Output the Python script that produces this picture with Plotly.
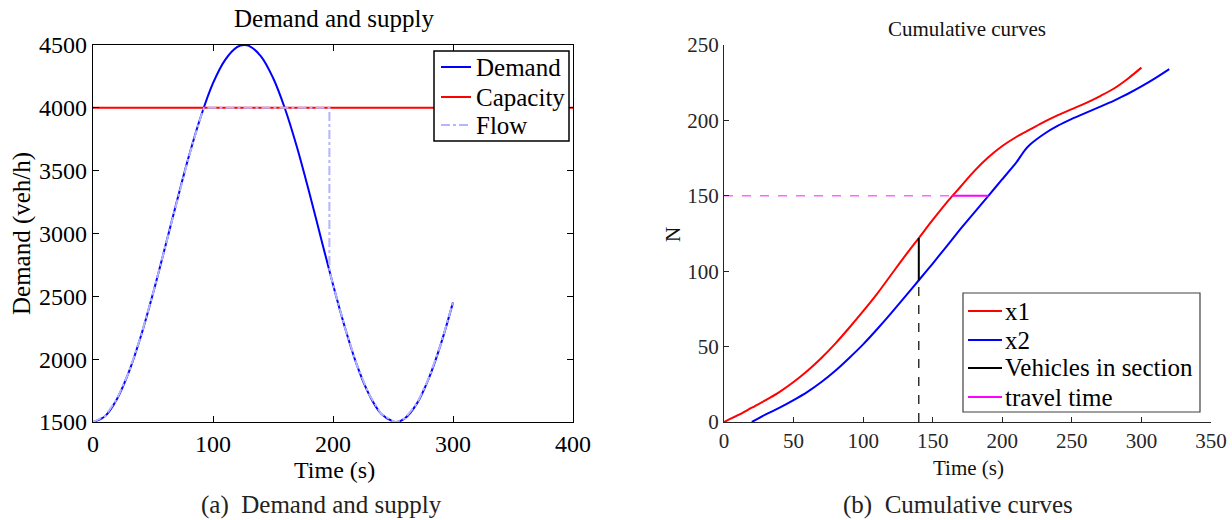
import plotly.graph_objects as go

# ---------------- Left panel data ----------------
demand_t = [0, 10, 20, 30, 40, 50, 60, 70, 80, 90, 100, 110, 120, 126, 130, 140, 150,
            160, 170, 180, 190, 200, 210, 220, 230, 240, 250, 253, 260, 270, 280, 290, 300]
demand_v = [1500, 1546, 1683, 1900, 2186, 2523, 2888, 3260, 3618, 3935, 4196, 4380, 4483, 4500,
            4493, 4410, 4239, 3993, 3686, 3334, 2963, 2594, 2250, 1950, 1720, 1567, 1505, 1500,
            1530, 1648, 1851, 2124, 2452]

capacity_t = [0, 400]
capacity_v = [4000, 4000]

flow_t = [0, 10, 20, 30, 40, 50, 60, 70, 80, 90, 92.5, 197, 197, 200, 210, 220, 230, 240,
          250, 253, 260, 270, 280, 290, 300]
flow_v = [1500, 1546, 1683, 1900, 2186, 2523, 2888, 3260, 3618, 3935, 4000, 4000, 2705, 2594,
          2250, 1950, 1720, 1567, 1505, 1500, 1530, 1648, 1851, 2124, 2452]

left_legend_labels = ["Demand", "Capacity", "Flow"]

# ---------------- Right panel data ----------------
x1_t = [0, 10, 20, 30, 40, 50, 60, 70, 80, 90, 100, 110, 120, 130, 140, 150, 160, 170, 180,
        190, 200, 210, 220, 230, 240, 250, 260, 270, 280, 290, 300]
x1_n = [0, 4.5, 9.5, 14.5, 20, 26.5, 34, 42.5, 52, 62.5, 73.5, 85, 97.5, 110, 122, 134, 145.5,
        156, 166.5, 175.5, 183, 189, 194, 199, 203.5, 207.5, 211.5, 216, 221, 227.5, 235]

x2_t = [20, 30, 40, 50, 60, 70, 80, 90, 100, 110, 120, 130, 140, 150, 160, 170, 180, 190, 200,
        210, 216, 220, 230, 240, 250, 260, 270, 280, 290, 300, 310, 320]
x2_n = [0, 5, 9.5, 14.5, 20, 26.5, 34, 42.5, 51.5, 61.5, 72, 83, 94, 105, 116.5, 128, 139, 150,
        161, 172, 180, 184, 191, 196.5, 201, 205, 209, 213, 217.5, 222.5, 228, 234]

section_t = [140, 140]
section_n = [94, 122]
guide_t = [140, 140]
guide_n = [0, 94]

travel_t = [164, 190]
travel_n = [150, 150]
travel_guide_t = [0, 164]
travel_guide_n = [150, 150]

right_legend_labels = ["x1", "x2", "Vehicles in section", "travel time"]

SERIF = "Liberation Serif"
W, H = 1232, 520


def px(xp):
    return xp / W


def py(yp):
    return (H - yp) / H


fig = go.Figure()

# Left panel traces
fig.add_trace(go.Scatter(x=demand_t, y=demand_v, mode="lines", name="Demand", showlegend=False,
                         line=dict(color="#0000ff", width=2, shape="spline", smoothing=1.0),
                         xaxis="x", yaxis="y"))
fig.add_trace(go.Scatter(x=capacity_t, y=capacity_v, mode="lines", name="Capacity", showlegend=False,
                         line=dict(color="#ff0000", width=2),
                         xaxis="x", yaxis="y"))
fig.add_trace(go.Scatter(x=flow_t, y=flow_v, mode="lines", name="Flow", showlegend=False,
                         line=dict(color="#b4b4ff", width=2, dash="dashdot"),
                         xaxis="x", yaxis="y"))

# Right panel traces
fig.add_trace(go.Scatter(x=x1_t, y=x1_n, mode="lines", name="x1", showlegend=False,
                         line=dict(color="#ff0000", width=2, shape="spline", smoothing=1.0),
                         xaxis="x2", yaxis="y2"))
fig.add_trace(go.Scatter(x=x2_t, y=x2_n, mode="lines", name="x2", showlegend=False,
                         line=dict(color="#0000ff", width=2, shape="spline", smoothing=0.4),
                         xaxis="x2", yaxis="y2"))
fig.add_trace(go.Scatter(x=section_t, y=section_n, mode="lines", name="Vehicles in section",
                         showlegend=False, line=dict(color="#000000", width=2),
                         xaxis="x2", yaxis="y2"))
fig.add_trace(go.Scatter(x=guide_t, y=guide_n, mode="lines", showlegend=False,
                         line=dict(color="#000000", width=1.2, dash="dash"),
                         xaxis="x2", yaxis="y2"))
fig.add_trace(go.Scatter(x=travel_t, y=travel_n, mode="lines", name="travel time",
                         showlegend=False, line=dict(color="#ff00ff", width=2),
                         xaxis="x2", yaxis="y2"))
fig.add_trace(go.Scatter(x=travel_guide_t, y=travel_guide_n, mode="lines", showlegend=False,
                         line=dict(color="#ff66ff", width=1.5, dash="dash"),
                         xaxis="x2", yaxis="y2"))

left_axis_common = dict(showgrid=False, zeroline=False, showline=True, linecolor="black",
                        linewidth=1.2, mirror="ticks", ticks="inside", ticklen=6,
                        tickcolor="black", automargin=False,
                        tickfont=dict(family=SERIF, size=24, color="black"))
right_axis_common = dict(showgrid=False, zeroline=False, showline=True, linecolor="#262626",
                         linewidth=1, mirror=False, ticks="inside", ticklen=5,
                         tickcolor="#262626", automargin=False,
                         tickfont=dict(family=SERIF, size=21, color="#262626"))

# ---- manual legends (shapes + text) ----
shapes = []
annotations = []

# left legend
shapes.append(dict(type="rect", xref="paper", yref="paper", x0=px(434), x1=px(569),
                   y0=py(141), y1=py(51), fillcolor="white",
                   line=dict(color="black", width=1.5), layer="above"))
left_styles = [dict(color="#0000ff", width=2), dict(color="#ff0000", width=2),
               dict(color="#b4b4ff", width=2, dash="dashdot")]
left_rows = [67, 97, 125]
for lab, sty, yy in zip(left_legend_labels, left_styles, left_rows):
    shapes.append(dict(type="line", xref="paper", yref="paper", x0=px(441), x1=px(471),
                       y0=py(yy), y1=py(yy), line=sty, layer="above"))
    annotations.append(dict(text=lab, x=px(474), y=py(yy), xref="paper", yref="paper",
                            xanchor="left", yanchor="middle", showarrow=False,
                            font=dict(family=SERIF, size=25, color="black")))

# right legend
shapes.append(dict(type="rect", xref="paper", yref="paper", x0=px(963), x1=px(1200),
                   y0=py(412), y1=py(293), fillcolor="white",
                   line=dict(color="#404040", width=1.2), layer="above"))
right_styles = [dict(color="#ff0000", width=2), dict(color="#0000ff", width=2),
                dict(color="#000000", width=2), dict(color="#ff00ff", width=2)]
right_rows = [311, 340, 368, 397]
for lab, sty, yy in zip(right_legend_labels, right_styles, right_rows):
    shapes.append(dict(type="line", xref="paper", yref="paper", x0=px(968), x1=px(1002),
                       y0=py(yy), y1=py(yy), line=sty, layer="above"))
    annotations.append(dict(text=lab, x=px(1003), y=py(yy), xref="paper", yref="paper",
                            xanchor="left", yanchor="middle", showarrow=False,
                            font=dict(family=SERIF, size=25, color="black")))


def label(text, x, y, size, color="black", angle=0):
    return dict(text=text, x=px(x), y=py(y), xref="paper", yref="paper",
                xanchor="center", yanchor="middle", showarrow=False, textangle=angle,
                font=dict(family=SERIF, size=size, color=color))


annotations += [
    label("Demand and supply", 334, 19, 25),
    label("Time (s)", 335, 470, 24),
    label("Demand (veh/h)", 22, 234, 25, angle=-90),
    label("(a)  Demand and supply", 321, 505, 25, "#222222"),
    label("Cumulative curves", 967, 29, 21, "#111111"),
    label("Time (s)", 968, 468, 21, "#111111"),
    label("N", 673, 235, 21, "#111111", angle=-90),
    label("(b)  Cumulative curves", 958, 505, 25, "#222222"),
]

fig.update_layout(
    width=W, height=H,
    margin=dict(l=0, r=0, t=0, b=0),
    paper_bgcolor="white", plot_bgcolor="white",
    showlegend=False,
    xaxis=dict(domain=[px(93), px(573)], range=[0, 400], tickvals=[0, 100, 200, 300, 400],
               anchor="y", **left_axis_common),
    yaxis=dict(domain=[py(422), py(45)], range=[1500, 4500],
               tickvals=[1500, 2000, 2500, 3000, 3500, 4000, 4500], anchor="x",
               **left_axis_common),
    xaxis2=dict(domain=[px(724), px(1211)], range=[0, 350],
                tickvals=[0, 50, 100, 150, 200, 250, 300, 350], anchor="y2", **right_axis_common),
    yaxis2=dict(domain=[py(422), py(45)], range=[0, 250],
                tickvals=[0, 50, 100, 150, 200, 250], anchor="x2", **right_axis_common),
    shapes=shapes,
    annotations=annotations,
)

fig.write_html("out.html")
